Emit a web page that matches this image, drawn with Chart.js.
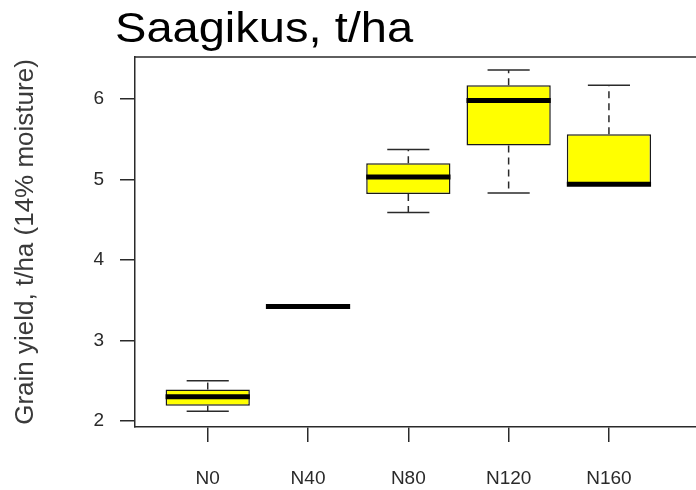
<!DOCTYPE html>
<html>
<head>
<meta charset="utf-8">
<title>Saagikus, t/ha</title>
<script src="https://cdn.jsdelivr.net/npm/chart.js@4.4.1/dist/chart.umd.min.js"></script>
<style>
  html, body { margin: 0; padding: 0; background: #fff; }
  #wrap { width: 696px; height: 490px; position: relative; }
</style>
</head>
<body>
<div id="wrap"><canvas id="yieldChart"></canvas></div>
<script>
// Données du graphique (boîtes à moustaches)
const categories = ["N0", "N40", "N80", "N120", "N160"];
const whiskerMin = [2.12, 3.42, 4.59, 4.83, 4.94];
const quartile1 = [2.19, 3.42, 4.82, 5.42, 4.94];
const medians = [2.30, 3.42, 5.03, 5.98, 4.94];
const quartile3 = [2.39, 3.42, 5.20, 6.17, 5.56];
const whiskerMax = [2.50, 3.42, 5.37, 6.36, 6.17];
const yTicks = [2, 3, 4, 5, 6];
const chartTitle = "Saagikus, t/ha";
const yAxisTitle = "Grain yield, t/ha (14% moisture)";

const FONT = '"Liberation Sans", Arial, sans-serif';
const INK = '#2a2a2a';

// Tracer un segment
function drawLine(ctx, x1, y1, x2, y2) {
    ctx.beginPath();
    ctx.moveTo(x1, y1);
    ctx.lineTo(x2, y2);
    ctx.stroke();
}

// Moustaches, médianes, cadre et titre
const boxplotPlugin = {
    id: 'boxplotParts',
    afterDatasetsDraw(chart) {
        const ctx = chart.ctx;
        const xs = chart.scales.x;
        const ys = chart.scales.y;
        const bars = chart.getDatasetMeta(0).data;
        ctx.save();
        categories.forEach(function(cat, i) {
            const cx = xs.getPixelForValue(i + 1);
            const half = bars[i].width / 2;
            const cap = half / 2;
            const yMin = ys.getPixelForValue(whiskerMin[i]);
            const yMax = ys.getPixelForValue(whiskerMax[i]);

            ctx.strokeStyle = INK;
            ctx.lineWidth = 1.5;
            ctx.setLineDash([7, 5]);
            drawLine(ctx, cx, ys.getPixelForValue(quartile3[i]), cx, yMax);
            drawLine(ctx, cx, ys.getPixelForValue(quartile1[i]), cx, yMin);
            ctx.setLineDash([]);
            drawLine(ctx, cx - cap, yMax, cx + cap, yMax);
            drawLine(ctx, cx - cap, yMin, cx + cap, yMin);

            ctx.strokeStyle = '#000';
            ctx.lineWidth = 5;
            const ym = ys.getPixelForValue(medians[i]);
            drawLine(ctx, cx - half, ym, cx + half, ym);
        });
        ctx.restore();
    },
    afterDraw(chart) {
        const ctx = chart.ctx;
        const area = chart.chartArea;
        ctx.save();
        // bord supérieur du cadre (le bord droit sort de l'image)
        ctx.strokeStyle = INK;
        ctx.lineWidth = 1.5;
        drawLine(ctx, area.left, area.top, area.right + 2, area.top);
        // titre
        ctx.fillStyle = '#000';
        ctx.font = '42px ' + FONT;
        ctx.textBaseline = 'alphabetic';
        ctx.translate(115, 42);
        ctx.scale(1.12, 1);
        ctx.fillText(chartTitle, 0, 0);
        ctx.restore();
    }
};

function initChart() {
    const ctx = document.getElementById("yieldChart").getContext("2d");
    const boxes = categories.map(function(cat, i) {
        return { x: i + 1, y: [quartile1[i], quartile3[i]] };
    });

    return new Chart(ctx, {
        type: 'bar',
        data: {
            datasets: [{
                data: boxes,
                backgroundColor: '#FFFF00',
                borderColor: '#1a1a1a',
                borderWidth: 1.5,
                borderSkipped: false,
                barPercentage: 1,
                categoryPercentage: 0.84
            }]
        },
        options: {
            responsive: true,
            maintainAspectRatio: false,
            animation: false,
            layout: { padding: { top: 57, left: 0, right: 0, bottom: 0 } },
            plugins: {
                legend: { display: false },
                title: { display: false },
                tooltip: { enabled: false }
            },
            scales: {
                x: {
                    type: 'linear',
                    min: 0.275,
                    max: 5.868,
                    offset: false,
                    afterFit: function(scale) { scale.height = 63; },
                    afterBuildTicks: function(scale) {
                        scale.ticks = categories.map(function(c, i) { return { value: i + 1 }; });
                    },
                    ticks: {
                        autoSkip: false,
                        maxRotation: 0,
                        padding: 25,
                        color: INK,
                        font: { family: FONT, size: 19 },
                        callback: function(value) { return categories[value - 1]; }
                    },
                    grid: {
                        offset: false,
                        drawOnChartArea: false,
                        tickLength: 15,
                        color: INK,
                        lineWidth: 1.5
                    },
                    border: { display: true, color: INK, width: 1.5 }
                },
                y: {
                    min: 1.925,
                    max: 6.52,
                    afterFit: function(scale) { scale.width = 135; },
                    afterBuildTicks: function(scale) {
                        scale.ticks = yTicks.map(function(v) { return { value: v }; });
                    },
                    ticks: {
                        padding: 16,
                        color: INK,
                        font: { family: FONT, size: 19 }
                    },
                    grid: {
                        drawOnChartArea: false,
                        tickLength: 15,
                        color: INK,
                        lineWidth: 1.5
                    },
                    border: { display: true, color: INK, width: 1.5 },
                    title: {
                        display: true,
                        text: yAxisTitle,
                        color: '#3a3a3a',
                        font: { family: FONT, size: 26 },
                        padding: { top: 10, bottom: 0 }
                    }
                }
            }
        },
        plugins: [boxplotPlugin]
    });
}

document.addEventListener('DOMContentLoaded', function() {
    initChart();
});
</script>
</body>
</html>
